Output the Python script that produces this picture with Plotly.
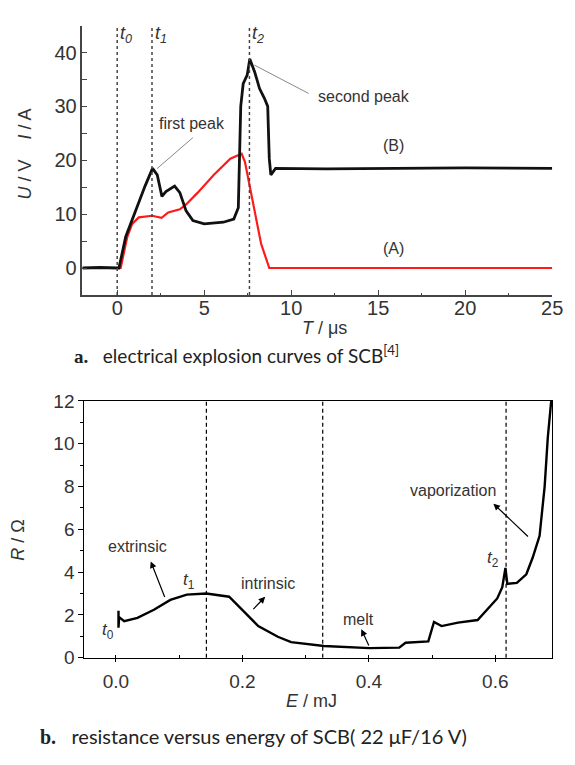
import plotly.graph_objects as go

# ---- Panel a: electrical explosion curves ----
t_B = [-2.0, -1.0, 0.0, 0.1, 0.49, 1.05, 1.6, 2.03, 2.3, 2.57, 2.8, 3.3, 3.6, 3.96, 4.35, 5.0, 6.1, 6.7,
       6.96, 7.1, 7.24, 7.47, 7.62, 7.9, 8.18, 8.46, 8.65, 8.74, 8.83, 9.1, 12.0, 16.0, 20.0, 25.0]
U_B = [0.0, 0.1, 0.0, 0.0, 5.8, 10.6, 15.2, 18.5, 17.3, 13.3, 14.2, 15.2, 14.0, 10.6, 8.8, 8.2, 8.5, 9.1,
       11.2, 30.0, 34.2, 35.8, 38.8, 36.4, 33.3, 31.5, 30.0, 20.3, 17.3, 18.5, 18.4, 18.5, 18.6, 18.5]
t_A = [-2.0, 0.0, 0.2, 0.58, 0.86, 1.24, 2.0, 2.55, 2.93, 3.6, 3.96, 4.6, 5.56, 6.5, 7.15, 7.34, 7.81,
       8.27, 8.74, 12.0, 18.0, 25.0]
I_A = [0.0, 0.0, 0.0, 5.8, 8.2, 9.4, 9.7, 9.3, 10.3, 10.9, 11.8, 13.9, 17.3, 20.3, 21.2, 19.7, 11.8,
       4.5, 0.0, 0.0, 0.0, 0.0]
t_marks = [0.0, 2.0, 7.6]
t_labels = ["t<sub>0</sub>", "t<sub>1</sub>", "t<sub>2</sub>"]
a_xticks = [0, 5, 10, 15, 20, 25]
a_yticks = [0, 10, 20, 30, 40]

# ---- Panel b: resistance versus energy ----
E_b = [0.004, 0.004, 0.005, 0.013, 0.034, 0.06, 0.086, 0.112, 0.143, 0.179, 0.2, 0.225, 0.256, 0.277,
       0.329, 0.401, 0.448, 0.458, 0.494, 0.503, 0.515, 0.541, 0.572, 0.603, 0.611, 0.616, 0.619,
       0.634, 0.649, 0.659, 0.67, 0.678, 0.683, 0.688, 0.69]
R_b = [2.2, 1.4, 1.9, 1.71, 1.86, 2.24, 2.7, 2.95, 3.0, 2.85, 2.24, 1.48, 0.98, 0.73,
       0.55, 0.45, 0.47, 0.70, 0.76, 1.67, 1.48, 1.64, 1.76, 2.77, 3.3, 4.2, 3.45,
       3.5, 3.9, 4.67, 5.7, 8.0, 10.3, 12.2, 12.5]
E_marks = [0.143, 0.327, 0.617]
b_xticks = [0.0, 0.2, 0.4, 0.6]
b_yticks = [0, 2, 4, 6, 8, 10, 12]

FONT = "Arial, Liberation Sans, sans-serif"
TXT = "#333333"


def paper_text(xpx, ypx, text, size=18, angle=0, family=FONT, color=TXT):
    return dict(x=xpx / 575, y=1 - ypx / 765, xref="paper", yref="paper", text=text,
                showarrow=False, xanchor="center", yanchor="middle", textangle=angle,
                font=dict(family=family, size=size, color=color))


fig = go.Figure()
fig.add_trace(go.Scatter(x=t_A, y=I_A, mode="lines", line=dict(color="#ff1a1a", width=2.2),
                         xaxis="x", yaxis="y", showlegend=False))
fig.add_trace(go.Scatter(x=t_B, y=U_B, mode="lines", line=dict(color="#111111", width=2.8),
                         xaxis="x", yaxis="y", showlegend=False))
fig.add_trace(go.Scatter(x=E_b, y=R_b, mode="lines", line=dict(color="#000000", width=2.4),
                         xaxis="x2", yaxis="y2", showlegend=False))

shapes = []
for t in t_marks:
    shapes.append(dict(type="line", xref="x", yref="y domain", x0=t, x1=t, y0=0, y1=1,
                       line=dict(color="#444444", width=1.5, dash="dot")))
for e in E_marks:
    shapes.append(dict(type="line", xref="x2", yref="y2 domain", x0=e, x1=e, y0=0, y1=1,
                       line=dict(color="#000000", width=1.2, dash="4px,3px")))

ann = []
for t, lab in zip(t_marks, t_labels):
    ann.append(dict(x=t, y=43.4, xref="x", yref="y", text="<i>" + lab + "</i>", showarrow=False,
                    xanchor="left", yanchor="middle", xshift=1,
                    font=dict(family=FONT, size=18, color=TXT)))


def line_ann(x, y, ax, ay, xr, yr, head, color, width):
    return dict(x=x, y=y, ax=ax, ay=ay, xref=xr, yref=yr, axref=xr, ayref=yr, text="",
                showarrow=True, arrowhead=head, arrowsize=1.1, arrowwidth=width, arrowcolor=color)


def data_text(x, y, text, xr, yr, size=16, bg=None):
    d = dict(x=x, y=y, xref=xr, yref=yr, text=text, showarrow=False, xanchor="center",
             yanchor="middle", font=dict(family=FONT, size=size, color=TXT))
    if bg:
        d["bgcolor"] = bg
    return d


ann += [
    line_ann(4.35, 24.2, 2.2, 18.2, "x", "y", 0, "#888888", 1),
    data_text(4.3, 26.9, "first peak", "x", "y", bg="white"),
    line_ann(11.0, 32.4, 7.8, 37.8, "x", "y", 0, "#888888", 1),
    data_text(14.2, 31.8, "second peak", "x", "y", bg="white"),
    data_text(15.9, 22.7, "(B)", "x", "y"),
    data_text(15.9, 3.6, "(A)", "x", "y"),
    paper_text(25, 148, "<i>U</i> / V    <i>I</i> / A", angle=-90),
    paper_text(331, 327, "<i>T</i> / μs"),
    paper_text(241, 354, "<b style='font-family:Liberation Serif'>a.</b>&nbsp;&nbsp; electrical explosion curves of SCB<sup>[4]</sup>",
               size=19, family="Lato", color="#222222"),
    # panel b annotations
    data_text(-0.012, 1.27, "<i>t</i><sub>0</sub>", "x2", "y2", size=17),
    data_text(0.116, 3.6, "<i>t</i><sub>1</sub>", "x2", "y2", size=17),
    data_text(0.597, 4.6, "<i>t</i><sub>2</sub>", "x2", "y2", size=17),
    data_text(0.034, 5.2, "extrinsic", "x2", "y2"),
    line_ann(0.055, 4.5, 0.078, 2.77, "x2", "y2", 2, "#000000", 1.2),
    data_text(0.24, 3.45, "intrinsic", "x2", "y2"),
    line_ann(0.236, 2.85, 0.215, 2.2, "x2", "y2", 2, "#000000", 1.2),
    data_text(0.383, 1.77, "melt", "x2", "y2"),
    line_ann(0.388, 1.33, 0.401, 0.5, "x2", "y2", 2, "#000000", 1.2),
    data_text(0.533, 7.8, "vaporization", "x2", "y2"),
    line_ann(0.597, 7.2, 0.654, 5.6, "x2", "y2", 2, "#000000", 1.2),
    paper_text(18, 545, "<i>R</i> / Ω", angle=-90),
    paper_text(318, 711, "<i>E</i> / mJ"),
    paper_text(258, 747, "<b style='font-family:Liberation Serif'>b.</b>&nbsp;&nbsp; resistance versus energy of SCB( 22 μF/16 V)",
               size=20, family="Lato", color="#222222"),
]

fig.update_layout(
    width=575, height=765, margin=dict(l=0, r=0, t=0, b=0),
    paper_bgcolor="white", plot_bgcolor="white",
    shapes=shapes, annotations=ann,
    xaxis=dict(domain=[84/575, 563/575], anchor="y", range=[-2, 25], tickvals=a_xticks,
               showline=True, linecolor="#444444", linewidth=1.5, ticks="inside", ticklen=5,
               tickcolor="#444444", showgrid=False, zeroline=False, ticklabelstandoff=-6,
               minor=dict(dtick=2.5, tick0=0, ticks="inside", ticklen=2, tickcolor="#444444"),
               tickfont=dict(family=FONT, size=20, color=TXT)),
    yaxis=dict(domain=[1 - 293/765, 1 - 16/765], anchor="x", range=[-5, 45], tickvals=a_yticks,
               showline=True, linecolor="#444444", linewidth=1.5, ticks="inside", ticklen=5,
               tickcolor="#444444", showgrid=False, zeroline=False,
               minor=dict(dtick=5, tick0=0, ticks="inside", ticklen=5, tickcolor="#444444"),
               tickfont=dict(family=FONT, size=20, color=TXT)),
    xaxis2=dict(domain=[86/575, 563/575], anchor="y2", range=[-0.05, 0.69], tickvals=b_xticks,
                tickformat=".1f", showline=True, mirror=True, linecolor="#000000", linewidth=1.2,
                ticks="outside", ticklen=3, tickcolor="#000000", showgrid=False, zeroline=False,
                ticklabelstandoff=3,
                minor=dict(dtick=0.1, tick0=0, ticks="inside", ticklen=3, tickcolor="#000000"),
                tickfont=dict(family=FONT, size=19, color=TXT)),
    yaxis2=dict(domain=[1 - 666/765, 1 - 402/765], anchor="x2", range=[0, 12], tickvals=b_yticks,
                showline=True, mirror=True, linecolor="#000000", linewidth=1.2,
                ticks="outside", ticklen=5, tickcolor="#000000", showgrid=False, zeroline=False,
                minor=dict(dtick=1, tick0=0, ticks="outside", ticklen=3, tickcolor="#000000"),
                tickfont=dict(family=FONT, size=19, color=TXT)),
)

fig.write_html("out.html")
